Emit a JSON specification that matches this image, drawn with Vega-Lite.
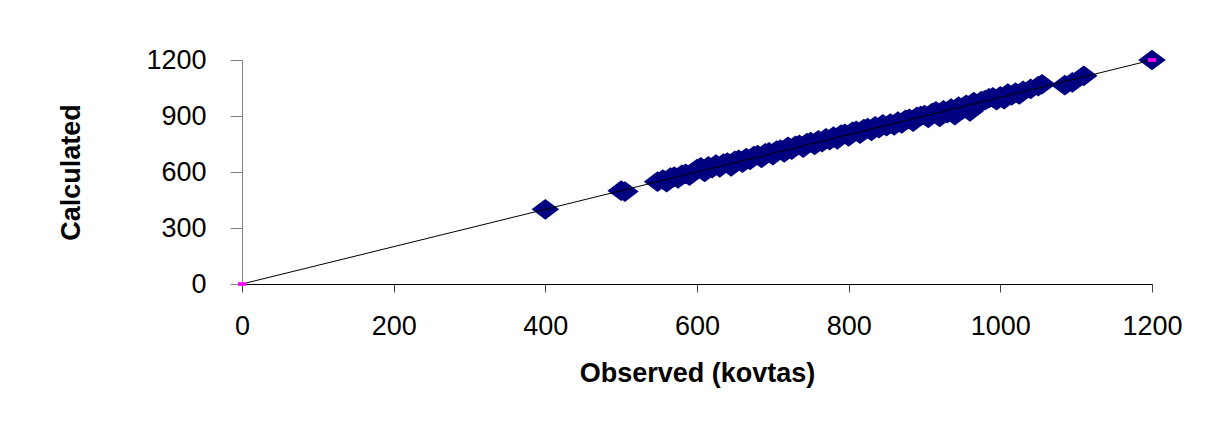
{
  "$schema": "https://vega.github.io/schema/vega-lite/v6.json",
  "autosize": "none",
  "width": 910,
  "height": 224,
  "padding": {"left": 242, "top": 60, "right": 73, "bottom": 143},
  "background": "white",
  "config": {
    "view": {"stroke": null},
    "font": "Liberation Sans",
    "axis": {"grid": false, "labelFont": "Liberation Sans", "titleFont": "Liberation Sans", "labelColor": "black", "titleColor": "black"}
  },
  "datasets": {
    "obs": [
      {"observed": 400, "calculated": 400},
      {"observed": 500, "calculated": 500},
      {"observed": 505, "calculated": 495},
      {"observed": 548, "calculated": 548},
      {"observed": 555, "calculated": 560},
      {"observed": 560, "calculated": 545},
      {"observed": 565, "calculated": 570},
      {"observed": 570, "calculated": 575},
      {"observed": 575, "calculated": 565},
      {"observed": 580, "calculated": 585},
      {"observed": 585, "calculated": 590},
      {"observed": 590, "calculated": 580},
      {"observed": 595, "calculated": 600},
      {"observed": 600, "calculated": 615},
      {"observed": 605, "calculated": 625},
      {"observed": 610, "calculated": 600},
      {"observed": 615, "calculated": 630},
      {"observed": 620, "calculated": 620},
      {"observed": 625, "calculated": 640},
      {"observed": 630, "calculated": 625},
      {"observed": 635, "calculated": 645},
      {"observed": 640, "calculated": 650},
      {"observed": 645, "calculated": 630},
      {"observed": 650, "calculated": 660},
      {"observed": 655, "calculated": 665},
      {"observed": 660, "calculated": 650},
      {"observed": 665, "calculated": 675},
      {"observed": 670, "calculated": 665},
      {"observed": 675, "calculated": 685},
      {"observed": 680, "calculated": 690},
      {"observed": 685, "calculated": 675},
      {"observed": 690, "calculated": 700},
      {"observed": 695, "calculated": 705},
      {"observed": 700, "calculated": 690},
      {"observed": 705, "calculated": 715},
      {"observed": 710, "calculated": 720},
      {"observed": 715, "calculated": 705},
      {"observed": 720, "calculated": 735},
      {"observed": 725, "calculated": 720},
      {"observed": 730, "calculated": 740},
      {"observed": 735, "calculated": 745},
      {"observed": 740, "calculated": 730},
      {"observed": 745, "calculated": 755},
      {"observed": 750, "calculated": 760},
      {"observed": 755, "calculated": 745},
      {"observed": 760, "calculated": 770},
      {"observed": 765, "calculated": 760},
      {"observed": 770, "calculated": 780},
      {"observed": 775, "calculated": 770},
      {"observed": 780, "calculated": 790},
      {"observed": 785, "calculated": 775},
      {"observed": 790, "calculated": 800},
      {"observed": 795, "calculated": 805},
      {"observed": 800, "calculated": 790},
      {"observed": 805, "calculated": 815},
      {"observed": 810, "calculated": 820},
      {"observed": 815, "calculated": 805},
      {"observed": 820, "calculated": 830},
      {"observed": 825, "calculated": 835},
      {"observed": 830, "calculated": 820},
      {"observed": 835, "calculated": 845},
      {"observed": 840, "calculated": 835},
      {"observed": 845, "calculated": 855},
      {"observed": 850, "calculated": 845},
      {"observed": 855, "calculated": 860},
      {"observed": 860, "calculated": 850},
      {"observed": 865, "calculated": 870},
      {"observed": 870, "calculated": 860},
      {"observed": 875, "calculated": 880},
      {"observed": 880, "calculated": 885},
      {"observed": 885, "calculated": 870},
      {"observed": 890, "calculated": 895},
      {"observed": 895, "calculated": 900},
      {"observed": 900, "calculated": 905},
      {"observed": 905, "calculated": 890},
      {"observed": 910, "calculated": 915},
      {"observed": 915, "calculated": 925},
      {"observed": 920, "calculated": 895},
      {"observed": 925, "calculated": 930},
      {"observed": 930, "calculated": 915},
      {"observed": 935, "calculated": 940},
      {"observed": 940, "calculated": 905},
      {"observed": 945, "calculated": 950},
      {"observed": 950, "calculated": 935},
      {"observed": 955, "calculated": 960},
      {"observed": 960, "calculated": 925},
      {"observed": 965, "calculated": 975},
      {"observed": 970, "calculated": 960},
      {"observed": 975, "calculated": 980},
      {"observed": 980, "calculated": 985},
      {"observed": 985, "calculated": 995},
      {"observed": 990, "calculated": 1000},
      {"observed": 995, "calculated": 985},
      {"observed": 1000, "calculated": 1005},
      {"observed": 1005, "calculated": 990},
      {"observed": 1010, "calculated": 1020},
      {"observed": 1015, "calculated": 1010},
      {"observed": 1020, "calculated": 1025},
      {"observed": 1025, "calculated": 1015},
      {"observed": 1030, "calculated": 1035},
      {"observed": 1040, "calculated": 1045},
      {"observed": 1050, "calculated": 1060},
      {"observed": 1055, "calculated": 1070},
      {"observed": 1085, "calculated": 1065},
      {"observed": 1095, "calculated": 1080},
      {"observed": 1110, "calculated": 1115},
      {"observed": 1200, "calculated": 1200}
    ],
    "fit": [
      {"observed": 0, "calculated": 0},
      {"observed": 1200, "calculated": 1200}
    ]
  },
  "encoding": {
    "x": {
      "field": "observed", "type": "quantitative",
      "scale": {"domain": [0, 1200], "nice": false, "zero": false},
      "axis": {
        "title": "Observed (kovtas)",
        "values": [0, 200, 400, 600, 800, 1000, 1200],
        "format": "d",
        "tickSize": 8, "tickColor": "#404040", "domainColor": "#000000",
        "labelFontSize": 27, "labelPadding": 21, "labelFlush": false,
        "titleFontSize": 27, "titleFontWeight": "bold", "titlePadding": 21
      }
    },
    "y": {
      "field": "calculated", "type": "quantitative",
      "scale": {"domain": [0, 1200], "nice": false, "zero": false},
      "axis": {
        "title": "Calculated",
        "values": [0, 300, 600, 900, 1200],
        "format": "d",
        "tickSize": 12, "tickColor": "#808080", "domainColor": "#808080",
        "labelFontSize": 27, "labelPadding": 24, "labelFlush": false,
        "titleFontSize": 27, "titleFontWeight": "bold", "titlePadding": 60
      }
    }
  },
  "layer": [
    {
      "data": {"name": "obs"},
      "mark": {"type": "point", "filled": true, "opacity": 1, "color": "#000080", "shape": "M-1,0L0,-0.75L1,0L0,0.75Z", "size": 760}
    },
    {
      "data": {"name": "fit"},
      "mark": {"type": "line", "color": "black", "strokeWidth": 1}
    },
    {
      "data": {"name": "fit"},
      "mark": {"type": "point", "filled": true, "opacity": 1, "color": "#FF00FF", "shape": "M-1,-0.45L1,-0.45L1,0.45L-1,0.45Z", "size": 64}
    }
  ]
}
